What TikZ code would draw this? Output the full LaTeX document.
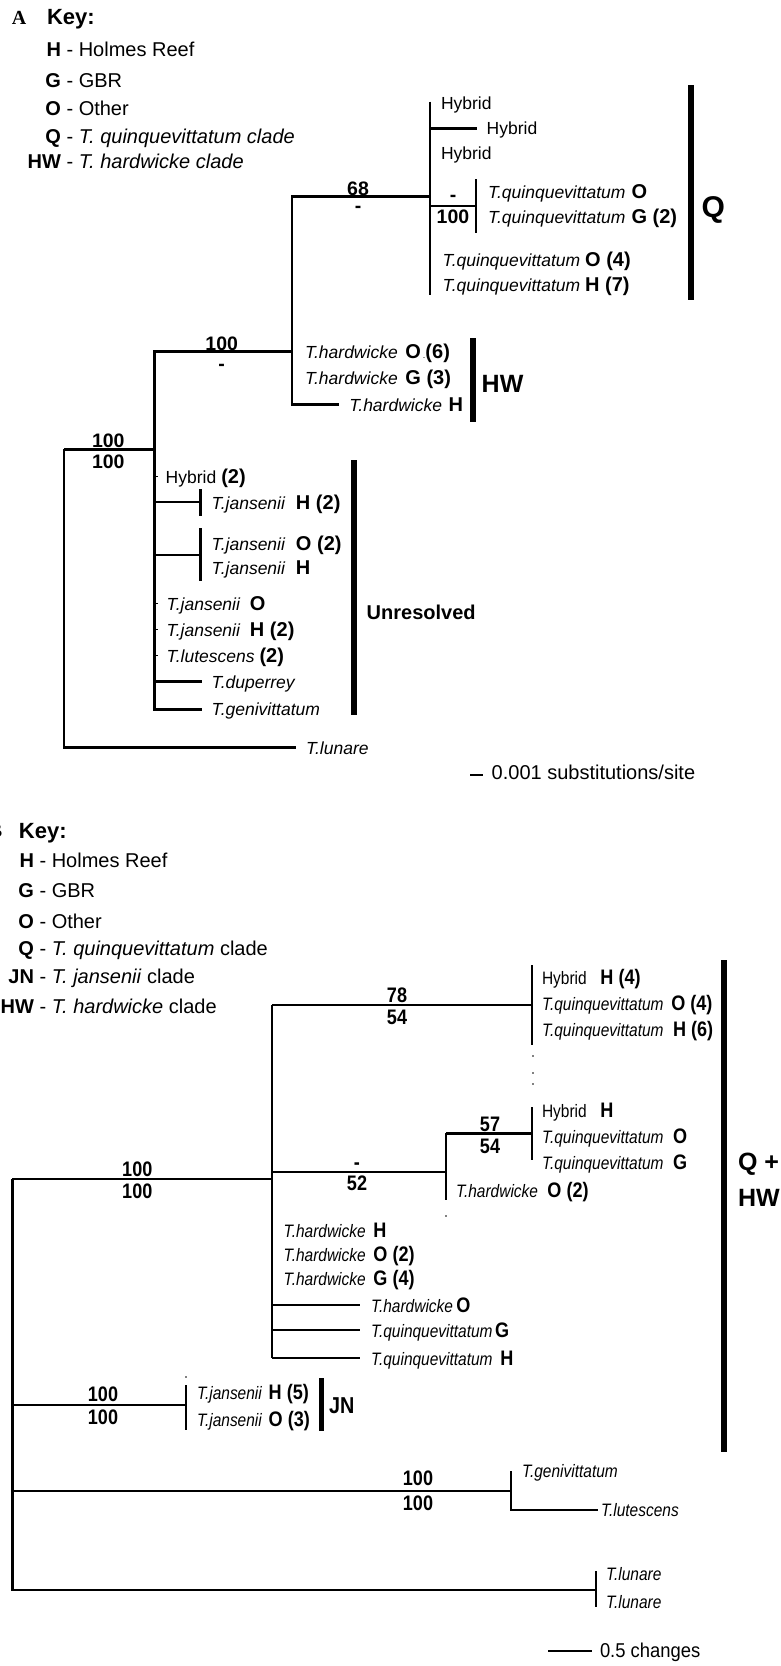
\documentclass[tikz,border=0pt]{standalone}
\usepackage{fontspec}
\setmainfont{Liberation Sans}
\newfontfamily\serifbf{Liberation Serif}
\newcommand\fsz[1]{\fontsize{#1}{#1}\selectfont}
\newcommand\txA[1]{{\fsz{17.5}\itshape #1}}
\newcommand\cdA[1]{{\fsz{20}\bfseries #1}}
\newcommand\txB[1]{{\fsz{18}\itshape #1}}
\newcommand\cdB[1]{{\fsz{21}\bfseries #1}}
\newcommand\nrw[1]{\scalebox{0.86}[1]{#1}}
\tikzset{
  br/.style={line width=2.5pt},
  tick/.style={line width=1pt},
  cladebar/.style={line width=5.7pt},
  lab/.style={anchor=base west, inner sep=0pt, outer sep=0pt},
  numA/.style={anchor=base, inner sep=0pt, font=\fsz{19.5}\bfseries},
  numB/.style={anchor=base, inner sep=0pt, font=\fsz{21}\bfseries},
}
\begin{document}
\begin{tikzpicture}[x=1pt,y=-1pt]
\useasboundingbox (0,0) rectangle (780,1666);
\fill[white] (0,0) rectangle (780,1666);

% ================= PANEL A =================
\node[lab, font=\serifbf\fsz{20}\bfseries] (lblA) at (12,24) {A};
\node[lab, font=\fsz{22}\bfseries] (keyA) at (47,24) {Key:};
\node[lab, font=\fsz{20}] (kA1) at (61,56.5) {\llap{\bfseries H}\ - Holmes Reef};
\node[lab, font=\fsz{20}] (kA2) at (61,87.2) {\llap{\bfseries G}\ - GBR};
\node[lab, font=\fsz{20}] (kA3) at (61,115.9) {\llap{\bfseries O}\ - Other};
\node[lab, font=\fsz{20}] (kA4) at (61,143.2) {\llap{\bfseries Q}\ - \textit{T. quinquevittatum clade}};
\node[lab, font=\fsz{20}] (kA5) at (61,168.9) {\llap{\bfseries HW}\ - \textit{T. hardwicke clade}};

% tree A coordinates
\coordinate (rA) at (64,449.3);
\coordinate (nA1) at (154.3,449.3);
\coordinate (nA2) at (292,351.7);
\coordinate (nA3) at (430,196.7);
\coordinate (nA3t) at (430,101.7);
\coordinate (nA3b) at (430,295);
\coordinate (nA4) at (476,206);
\coordinate (nA4t) at (476,179);
\coordinate (nA4b) at (476,232.7);
\coordinate (tHy2) at (476.7,128.3);
\coordinate (tHWH) at (339.3,404.3);
\coordinate (tLunA) at (296,747.7);
\coordinate (cJ1) at (200.3,502);
\coordinate (cJ1t) at (200.3,489.3);
\coordinate (cJ1b) at (200.3,516);
\coordinate (cJ2) at (200.3,555);
\coordinate (cJ2t) at (200.3,528.3);
\coordinate (cJ2b) at (200.3,580.7);
\coordinate (tDup) at (201.7,681.7);
\coordinate (tGen) at (201.7,709.3);

\draw[br] (rA) -- (nA1);
\draw[br] (rA) |- (tLunA);
\draw[br] (nA1) |- (nA2);
\draw[br] (nA1) |- (tGen);
\draw[br] (nA1 |- cJ1) -- (cJ1);
\draw[br] (nA1 |- cJ2) -- (cJ2);
\draw[br] (nA1 |- tDup) -- (tDup);
\draw[br] (cJ1t) -- (cJ1b);
\draw[br] (cJ2t) -- (cJ2b);
\draw[br] (nA2) |- (nA3);
\draw[br] (nA2) |- (tHWH);
\draw[br] (nA3t) -- (nA3b);
\draw[br] (nA3 |- tHy2) -- (tHy2);
\draw[br] (nA3 |- nA4) -- (nA4);
\draw[br] (nA4t) -- (nA4b);
\foreach \yy in {476.7,603.3,629,655} \draw[tick] (154.3,\yy) -- (157.5,\yy);

% support values A
\node[numA] (s68a) at (358,195) {68};
\node[numA] (s68b) at (358,212) {-};
\node[numA] (sQa) at (453,201.7) {-};
\node[numA] (sQb) at (453,223.7) {100};
\node[numA] (sHWa) at (221.7,350.3) {100};
\node[numA] (sHWb) at (221.7,370) {-};
\node[numA] (sRa) at (108.3,447) {100};
\node[numA] (sRb) at (108.3,468.7) {100};

% taxa A
\node[lab, font=\fsz{17.5}] (hyA1) at (441,109.5) {Hybrid};
\node[lab, font=\fsz{17.5}] (hyA2) at (486.7,134.8) {Hybrid};
\node[lab, font=\fsz{17.5}] (hyA3) at (441,159.2) {Hybrid};
\node[lab] (qA1) at (488,198.7) {\txA{T.quinquevittatum}\hspace{6pt}\cdA{O}};
\node[lab] (qA2) at (488,223.7) {\txA{T.quinquevittatum}\hspace{6pt}\cdA{G (2)}};
\node[lab] (qA3) at (442.7,266) {\txA{T.quinquevittatum}\hspace{5pt}\cdA{O (4)}};
\node[lab] (qA4) at (442.7,291) {\txA{T.quinquevittatum}\hspace{5pt}\cdA{H (7)}};
\node[lab] (hwA1) at (305,358.7) {\txA{T.hardwicke}\hspace{7.7pt}\cdA{O}\hspace{2pt}{\fsz{9}.}\cdA{(6)}};
\node[lab] (hwA2) at (305,384.3) {\txA{T.hardwicke}\hspace{7.7pt}\cdA{G (3)}};
\node[lab] (hwA3) at (349.3,411.3) {\txA{T.hardwicke}\hspace{6.6pt}\cdA{H}};
\node[lab] (hyA4) at (165.7,483.7) {{\fsz{17.5}Hybrid}\hspace{5pt}\cdA{(2)}};
\node[lab] (jA1) at (211.7,509) {\txA{T.jansenii}\hspace{11pt}\cdA{H (2)}};
\node[lab] (jA2) at (211.7,550.3) {\txA{T.jansenii}\hspace{11pt}\cdA{O (2)}};
\node[lab] (jA3) at (211.7,574.7) {\txA{T.jansenii}\hspace{11pt}\cdA{H}};
\node[lab] (jA4) at (166.7,610.3) {\txA{T.jansenii}\hspace{10pt}\cdA{O}};
\node[lab] (jA5) at (166.7,636) {\txA{T.jansenii}\hspace{10pt}\cdA{H (2)}};
\node[lab] (luA) at (166.7,662) {\txA{T.lutescens}\hspace{5pt}\cdA{(2)}};
\node[lab] (duA) at (211.7,688) {\txA{T.duperrey}};
\node[lab] (geA) at (211.7,715.6) {\txA{T.genivittatum}};
\node[lab] (lnA) at (306,754) {\txA{T.lunare}};

% clade bars A
\coordinate (bQt) at (690.7,85); \coordinate (bQb) at (690.7,300);
\draw[cladebar] (bQt) -- (bQb);
\node[lab, font=\fsz{30}\bfseries] (cQ) at (701.7,217.4) {Q};
\coordinate (bHWt) at (472.7,338); \coordinate (bHWb) at (472.7,421.7);
\draw[cladebar] (bHWt) -- (bHWb);
\node[lab, font=\fsz{25}\bfseries] (cHW) at (481.7,392.3) {HW};
\coordinate (bUt) at (354,460); \coordinate (bUb) at (354,715);
\draw[cladebar] (bUt) -- (bUb);
\node[lab, font=\fsz{20}\bfseries] (cU) at (366.7,619.5) {Unresolved};

% scale A
\coordinate (scA1) at (470,775); \coordinate (scA2) at (483.3,775);
\draw[line width=2.6pt] (scA1) -- (scA2);
\node[lab, font=\fsz{20}] (scAt) at (491.7,779) {0.001 substitutions/site};

% ================= PANEL B =================
\node[anchor=base east, inner sep=0pt, font=\serifbf\fsz{20}\bfseries] (lblB) at (2.5,837) {B};
\node[lab, font=\fsz{22}\bfseries] (keyB) at (19,838) {Key:};
\node[lab, font=\fsz{20}] (kB1) at (34,867.9) {\llap{\bfseries H}\ - Holmes Reef};
\node[lab, font=\fsz{20}] (kB2) at (34,897.9) {\llap{\bfseries G}\ - GBR};
\node[lab, font=\fsz{20}] (kB3) at (34,928.9) {\llap{\bfseries O}\ - Other};
\node[lab, font=\fsz{20}] (kB4) at (34,955.5) {\llap{\bfseries Q}\ - \textit{T. quinquevittatum} clade};
\node[lab, font=\fsz{20}] (kB5) at (34,983.2) {\llap{\bfseries JN}\ - \textit{T. jansenii} clade};
\node[lab, font=\fsz{20}] (kB6) at (34,1013.9) {\llap{\bfseries HW}\ - \textit{T. hardwicke} clade};

% tree B coordinates
\coordinate (rB) at (12.3,1179);
\coordinate (nB1) at (272,1179);
\coordinate (nB1t) at (272,1005);
\coordinate (nB78) at (532,1005);
\coordinate (nB78t) at (532,965);
\coordinate (nB78b) at (532,1045);
\coordinate (nB52) at (446,1172);
\coordinate (nB52b) at (446,1200);
\coordinate (nB57) at (532,1133.3);
\coordinate (nB57t) at (532,1107);
\coordinate (nB57b) at (532,1160);
\coordinate (tB1) at (360,1305);
\coordinate (tB2) at (360,1330);
\coordinate (tB3) at (360,1358);
\coordinate (nBJN) at (186,1405);
\coordinate (nBJNt) at (186,1385);
\coordinate (nBJNb) at (186,1430);
\coordinate (nBG) at (511,1491);
\coordinate (nBGt) at (511,1471);
\coordinate (tBLu) at (598,1510);
\coordinate (nBL) at (596,1590);
\coordinate (nBLt) at (596,1571);
\coordinate (nBLb) at (596,1607);

\draw[br] (rB) -- (nB1);
\draw[br] (rB) |- (nBL);
\draw[br] (rB |- nBJN) -- (nBJN);
\draw[br] (rB |- nBG) -- (nBG);
\draw[br] (nB1t) -- (nB1 |- tB3);
\draw[br] (nB1t) -- (nB78);
\draw[br] (nB1 |- nB52) -- (nB52);
\draw[br] (nB1 |- tB1) -- (tB1);
\draw[br] (nB1 |- tB2) -- (tB2);
\draw[br] (nB1 |- tB3) -- (tB3);
\draw[br] (nB78t) -- (nB78b);
\draw[br] (nB52 |- nB57) -- (nB52b);
\draw[br] (nB52 |- nB57) -- (nB57);
\draw[br] (nB57t) -- (nB57b);
\draw[br] (nBJNt) -- (nBJNb);
\draw[br] (nBGt) -- (nBG |- tBLu) -- (tBLu);
\draw[br] (nBLt) -- (nBLb);
\foreach \dx/\dy in {533/1056,533/1073,533/1084,446/1216,186/1377}
  \fill (\dx,\dy) circle (0.9);

% support values B
\node[numB] (s78a) at (397,1002) {\nrw{78}};
\node[numB] (s78b) at (397,1024) {\nrw{54}};
\node[numB] (s57a) at (490,1131.7) {\nrw{57}};
\node[numB] (s57b) at (490,1153) {\nrw{54}};
\node[numB] (s52a) at (357,1169) {\nrw{-}};
\node[numB] (s52b) at (357,1190.7) {\nrw{52}};
\node[numB] (sRBa) at (137.3,1176) {\nrw{100}};
\node[numB] (sRBb) at (137.3,1198) {\nrw{100}};
\node[numB] (sJNa) at (103,1401.5) {\nrw{100}};
\node[numB] (sJNb) at (103,1424.5) {\nrw{100}};
\node[numB] (sGa) at (418,1485.5) {\nrw{100}};
\node[numB] (sGb) at (418,1510.5) {\nrw{100}};

% taxa B
\node[lab] (bq1) at (542,984) {\nrw{{\fsz{18}Hybrid}\hspace{16pt}\cdB{H (4)}}};
\node[lab] (bq2) at (542,1010) {\nrw{\txB{T.quinquevittatum}\hspace{9pt}\cdB{O (4)}}};
\node[lab] (bq3) at (542,1036) {\nrw{\txB{T.quinquevittatum}\hspace{11pt}\cdB{H (6)}}};
\node[lab] (bq4) at (542,1117) {\nrw{{\fsz{18}Hybrid}\hspace{16pt}\cdB{H}}};
\node[lab] (bq5) at (542,1143) {\nrw{\txB{T.quinquevittatum}\hspace{11pt}\cdB{O}}};
\node[lab] (bq6) at (542,1169) {\nrw{\txB{T.quinquevittatum}\hspace{11pt}\cdB{G}}};
\node[lab] (bh1) at (456,1197) {\nrw{\txB{T.hardwicke}\hspace{11pt}\cdB{O (2)}}};
\node[lab] (bh2) at (283.7,1237) {\nrw{\txB{T.hardwicke}\hspace{9pt}\cdB{H}}};
\node[lab] (bh3) at (283.7,1261) {\nrw{\txB{T.hardwicke}\hspace{9pt}\cdB{O (2)}}};
\node[lab] (bh4) at (283.7,1285.6) {\nrw{\txB{T.hardwicke}\hspace{9pt}\cdB{G (4)}}};
\node[lab] (bh5) at (371,1312) {\nrw{\txB{T.hardwicke}\hspace{4pt}\cdB{O}}};
\node[lab] (bq7) at (371,1337) {\nrw{\txB{T.quinquevittatum}\hspace{3pt}\cdB{G}}};
\node[lab] (bq8) at (371,1365) {\nrw{\txB{T.quinquevittatum}\hspace{9pt}\cdB{H}}};
\node[lab] (bj1) at (197,1399) {\nrw{\txB{T.jansenii}\hspace{8pt}\cdB{H (5)}}};
\node[lab] (bj2) at (197,1426) {\nrw{\txB{T.jansenii}\hspace{8pt}\cdB{O (3)}}};
\node[lab] (bg1) at (522,1477.5) {\nrw{\txB{T.genivittatum}}};
\node[lab] (bl1) at (601,1516.5) {\nrw{\txB{T.lutescens}}};
\node[lab] (bn1) at (606,1580.5) {\nrw{\txB{T.lunare}}};
\node[lab] (bn2) at (606,1608.5) {\nrw{\txB{T.lunare}}};

% clade bars B
\coordinate (bQHt) at (724,960); \coordinate (bQHb) at (724,1452);
\draw[cladebar] (bQHt) -- (bQHb);
\node[lab, font=\fsz{25}\bfseries] (cQH1) at (738,1170) {Q +};
\node[lab, font=\fsz{25}\bfseries] (cQH2) at (738,1206) {HW};
\coordinate (bJNt) at (321.5,1378); \coordinate (bJNb) at (321.5,1431);
\draw[cladebar] (bJNt) -- (bJNb);
\node[lab, font=\fsz{23}\bfseries] (cJN) at (329,1413) {\nrw{JN}};

% scale B
\coordinate (scB1) at (548,1651); \coordinate (scB2) at (592,1651);
\draw[line width=2.4pt] (scB1) -- (scB2);
\node[lab, font=\fsz{20}] (scBt) at (600,1657.5) {\scalebox{0.92}[1]{0.5 changes}};
\end{tikzpicture}
\end{document}
